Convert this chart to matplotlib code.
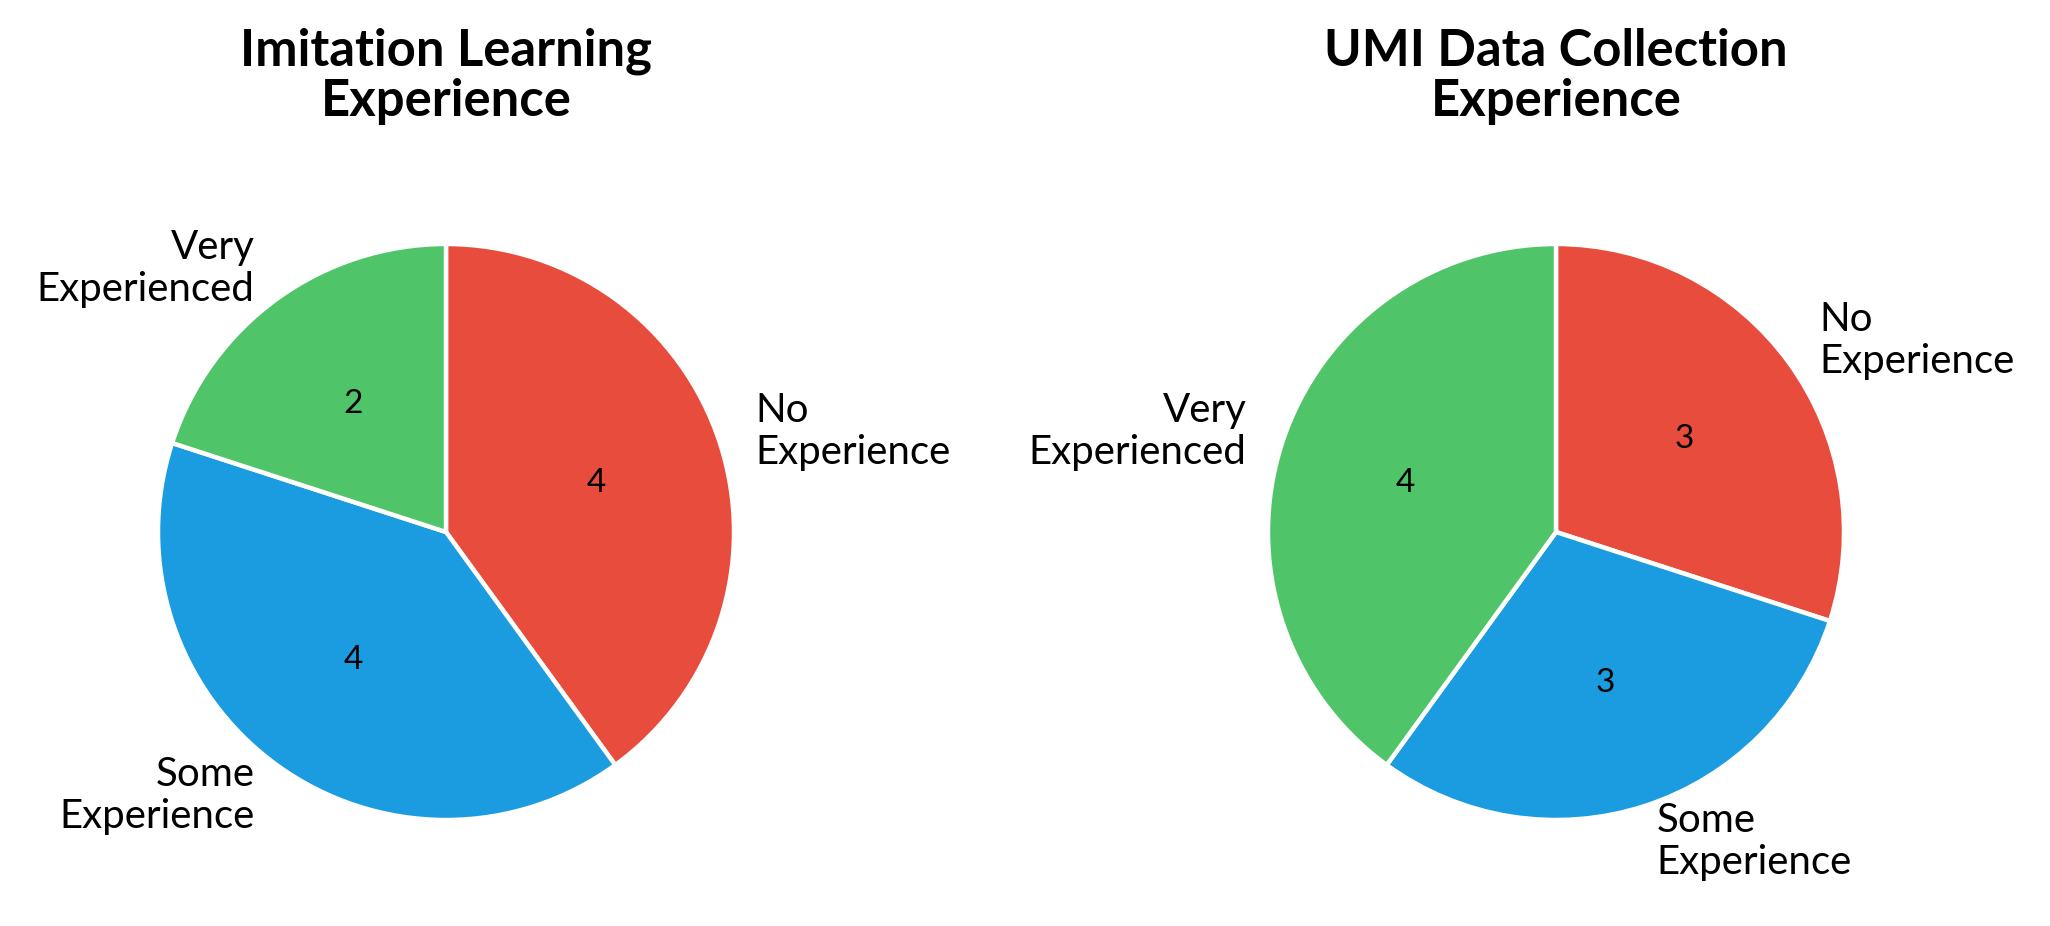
import matplotlib
import matplotlib.pyplot as plt

matplotlib.use('Agg')

plt.rcParams['font.family'] = ['Lato', 'DejaVu Sans']

# Survey answers, one pie per question.
categories = ['No\nExperience', 'Some\nExperience', 'Very\nExperienced']
imitation_counts = [4, 4, 2]
umi_counts = [3, 3, 4]
titles = ['Imitation Learning\nExperience', 'UMI Data Collection\nExperience']
colors = ['#e74c3c', '#1b9be0', '#50c469']


def count_label(values):
    # Show the raw count in every wedge instead of the percent.
    total = sum(values)

    def fmt(pct):
        return str(int(round(pct * total / 100.0)))
    return fmt


def main():
    fig = plt.figure(figsize=(20.5, 9.26), dpi=100)

    # Axes placed by hand: 720 px square so pie radius is about 288 px.
    left_axes = fig.add_axes([86 / 2050, 34 / 926, 720 / 2050, 720 / 926])
    right_axes = fig.add_axes([1196 / 2050, 34 / 926, 720 / 2050, 720 / 926])

    for ax, values, title in zip([left_axes, right_axes],
                                 [imitation_counts, umi_counts], titles):
        ax.pie(values, labels=categories, colors=colors,
               autopct=count_label(values), startangle=90, counterclock=False,
               labeldistance=1.13, pctdistance=0.55,
               wedgeprops={'edgecolor': 'white', 'linewidth': 3.2},
               textprops={'fontsize': 29})
        for t in ax.texts:
            t.set_linespacing(1.15)
        # Wedge numbers are a bit smaller than the outer labels.
        for t in ax.texts[1::2]:
            t.set_fontsize(24)
        ax.set_title(title, fontsize=36.5, fontweight='bold', pad=40,
                     linespacing=1.1)

    fig.savefig('out.png', dpi=100)


if __name__ == '__main__':
    main()
